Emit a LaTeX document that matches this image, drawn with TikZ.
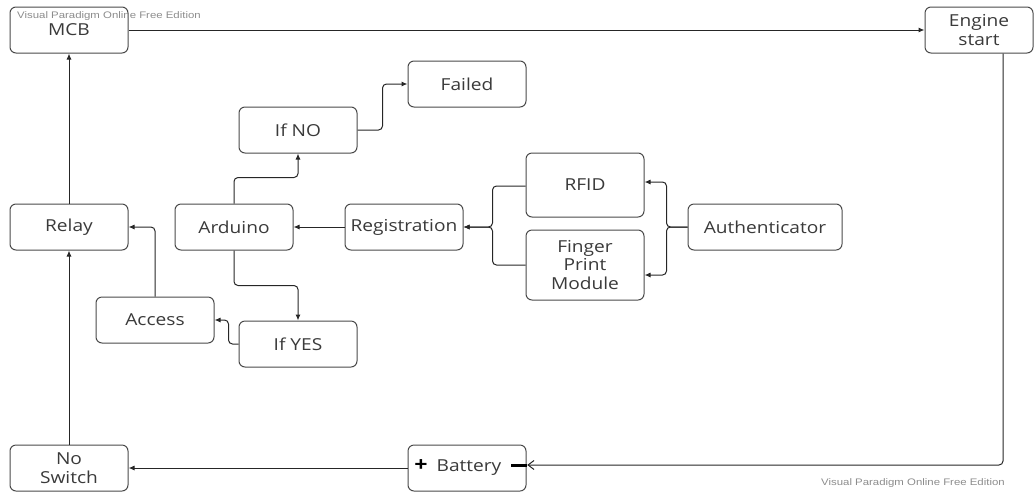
\documentclass[tikz,border=0pt]{standalone}
\usepackage{fontspec}
\setmainfont{Open Sans}[FakeStretch=1.16]
\newfontfamily\wmfont{Liberation Sans}[FakeStretch=1.2]
\usetikzlibrary{arrows.meta}
\definecolor{boxline}{HTML}{4A4A4A}
\definecolor{boxtext}{HTML}{3A3A3A}
\definecolor{wmgray}{HTML}{8C8C8C}

\begin{document}
\begin{tikzpicture}[x=1pt, y=-1pt,
	box/.style = {draw=boxline, line width=1pt, rounded corners=6pt, fill=white,
		minimum width=118pt, minimum height=46pt, align=center, inner sep=2pt,
		text=boxtext, font=\fontsize{16.5}{18.5}\selectfont},
	link/.style = {draw=black!85, line width=1pt, rounded corners=4pt,
		-{Latex[length=6pt,width=5pt]}},
	wmark/.style = {text=wmgray, font=\wmfont\fontsize{9.5}{11}\selectfont, inner sep=0pt}]
	\useasboundingbox (0,0) rectangle (1035,491);
	% top row
	\node[box] (mcb) at (69,30) {\raisebox{-4pt}{MCB}};
	\node[box, minimum width=108pt] (engine) at (979,30) {Engine\\start};
	% middle part
	\node[box] (failed) at (467,84) {Failed};
	\node[box] (ifno) at (298,130) {If NO};
	\node[box] (relay) at (69,227) {Relay};
	\node[box] (arduino) at (234,227) {Arduino};
	\node[box] (registration) at (404,227) {Registration};
	\node[box, minimum height=64pt] (rfid) at (585,185) {RFID};
	\node[box, minimum height=70pt] (fpm) at (585,265) {Finger\\Print\\Module};
	\node[box, minimum width=154pt] (auth) at (765,227) {Authenticator};
	\node[box] (access) at (155,320) {Access};
	\node[box] (ifyes) at (298,344) {If YES};
	% bottom row
	\node[box] (noswitch) at (69,468) {No\\Switch};
	\node[box] (battery) at (467,468) {\hspace*{4pt}Battery};
	\node[font=\fontsize{20}{20}\selectfont\bfseries, text=black, inner sep=0pt] (plus) at (421,466) {+};
	\node[fill=black, minimum width=16pt, minimum height=3pt, inner sep=0pt] (minus) at (519,465) {};
	% watermarks
	\node[wmark, anchor=west] (wmtop) at (17,16) {Visual Paradigm Online Free Edition};
	\node[wmark, anchor=west] (wmbot) at (821,483) {Visual Paradigm Online Free Edition};

	% connectors
	\draw[link] (mcb.east) -- (engine.west);
	\draw[link] (relay.north) -- (mcb.south);
	\draw[link] (noswitch.north) -- (relay.south);
	\draw[link] (battery.west) -- (noswitch.east);
	\draw[link, -{Straight Barb[length=6pt,width=9pt]}] ([xshift=24pt]engine.south) |- (minus.east);
	\draw[link] (arduino.north) -- ++(0,-26) -| (ifno.south);
	\draw[link] (ifno.east) -- ++(25,0) |- (failed.west);
	\draw[link] (registration.west) -- (arduino.east);
	\draw[link] ([yshift=-1pt]rfid.west) -- ++(-33,0) |- (registration.east);
	\draw[link] (fpm.west) -- ++(-33,0) |- (registration.east);
	\draw[link] (auth.west) -- ++(-21,0) |- ([yshift=3pt]rfid.east);
	\draw[link] (auth.west) -- ++(-21,0) |- ([yshift=-10pt]fpm.east);
	\draw[link] (arduino.south) -- ++(0,35) -| (ifyes.north);
	\draw[link] (ifyes.west) -- ++(-10,0) |- (access.east);
	\draw[link] (access.north) |- (relay.east);
\end{tikzpicture}
\end{document}
